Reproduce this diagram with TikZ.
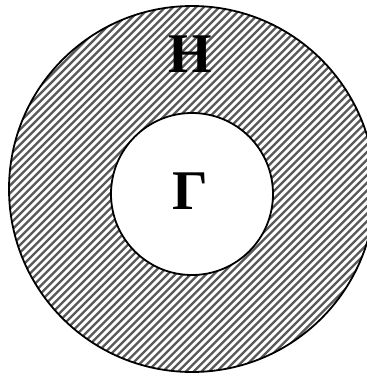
\documentclass[tikz,border=0pt]{standalone}
\usepackage{fontspec}
\setmainfont{Liberation Serif}
\begin{document}
\begin{tikzpicture}[x=1pt,y=-1pt,
  hatchline/.style={line width=2.3pt,black!65},
  ringline/.style={line width=1.8pt,black},
  lbl/.style={inner sep=0pt,font=\fontsize{56}{60}\selectfont\bfseries}]
\useasboundingbox (0,0) rectangle (367,376);
\fill[white] (0,0) rectangle (367,376);
\begin{scope}[even odd rule]
  \clip (192,189) circle[radius=183] (192,194) circle[radius=81];
  \foreach \i in {-420,-412.3,...,400}
    \draw[hatchline] (\i,400) -- ++(420,-420);
\end{scope}
\draw[ringline] (192,189) circle[radius=183];
\draw[ringline] (192,194) circle[radius=81];
\node[lbl] (H) at (190,54) {H};
\node[lbl] (G) at (190,191) {Γ};
\end{tikzpicture}
\end{document}
